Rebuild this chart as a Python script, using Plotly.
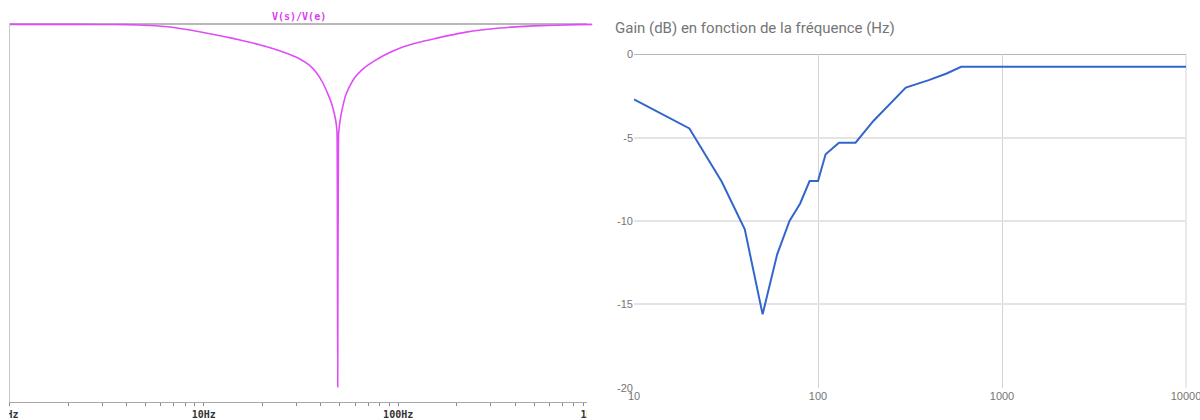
import plotly.graph_objects as go

# ---------------- Left panel: simulated response V(s)/V(e) ----------------
sim_title = "V(s)/V(e)"
sim_freq_hz = [1.0, 1.8, 2.9, 4.0, 5.3, 6.5, 9.5, 14.1, 17.2, 21.1, 25.6, 31.2, 34.9,
               37.9, 41.2, 43.4, 45.3, 46.6, 47.7, 48.3, 48.5, 48.86, 49.3, 49.7, 50.6,
               52.2, 54.0, 56.7, 60.1, 64.5, 70.1, 76.2, 83.7, 102.4, 126.7, 151.4,
               223.7, 334.5, 494.5, 842.0, 1000.0]
sim_gain_db = [-0.05, -0.05, -0.08, -0.13, -0.37, -0.71, -2.01, -3.75, -4.78, -5.96,
               -7.36, -9.18, -10.82, -12.77, -15.73, -18.34, -20.74, -22.98, -25.36,
               -27.55, -29.5, -95.7, -29.5, -27.4, -24.5, -21.1, -18.45, -16.07, -13.96,
               -12.25, -10.74, -9.55, -8.36, -6.31, -4.85, -3.91, -2.11, -1.03, -0.45,
               -0.13, -0.07]
sim_tick_vals = [1, 2, 3, 4, 5, 6, 7, 8, 9,
                 10, 20, 30, 40, 50, 60, 70, 80, 90,
                 100, 200, 300, 400, 500, 600, 700, 800, 900, 1000]
sim_tick_text = ["1Hz", "", "", "", "", "", "", "", "",
                 "10Hz", "", "", "", "", "", "", "", "",
                 "100Hz", "", "", "", "", "", "", "", "", "1KHz"]

# ---------------- Right panel: measured gain ----------------
meas_title = "Gain (dB) en fonction de la fréquence (Hz)"
meas_freq_hz = [10, 20, 30, 40, 50, 60, 70, 80, 90, 100, 110, 120, 130, 140, 150, 160,
                200, 300, 400, 500, 600, 1000, 10000]
meas_gain_db = [-2.7, -4.45, -7.65, -10.5, -15.6, -12.0, -10.0, -8.95, -7.6, -7.6, -6.0,
                -5.65, -5.3, -5.3, -5.3, -5.3, -4.0, -2.0, -1.55, -1.15, -0.75, -0.75, -0.75]
meas_x_ticks = [10, 100, 1000, 10000]
meas_x_labels = ["10", "100", "1000", "10000"]
meas_y_ticks = [0, -5, -10, -15, -20]
meas_y_labels = ["0", "-5", "-10", "-15", "-20"]

W, H = 1200, 420


def px(x):
    return x / W


def py(y):
    return 1 - y / H


MAGENTA = "#e04cf8"
BLUE = "#3366cc"
GREY_TXT = "#757575"

fig = go.Figure()

fig.add_trace(go.Scatter(
    x=sim_freq_hz, y=sim_gain_db, mode="lines",
    line=dict(color=MAGENTA, width=1.6, shape="spline", smoothing=0.5),
    xaxis="x", yaxis="y", showlegend=False, hoverinfo="skip"))

fig.add_trace(go.Scatter(
    x=meas_freq_hz, y=meas_gain_db, mode="lines",
    line=dict(color=BLUE, width=2),
    xaxis="x2", yaxis="y2", showlegend=False, hoverinfo="skip"))

fig.update_layout(
    width=W, height=H,
    margin=dict(l=0, r=0, t=0, b=0),
    paper_bgcolor="white", plot_bgcolor="white",
    xaxis=dict(
        type="log", domain=[px(9.5), px(592.5)], range=[0, 3], anchor="y",
        showgrid=False, zeroline=False,
        showline=True, linecolor="#a8a8a8", linewidth=1,
        ticks="outside", ticklen=3, tickcolor="#8a8a8a", tickwidth=1,
        tickvals=sim_tick_vals, ticktext=sim_tick_text,
        tickfont=dict(family="DejaVu Sans Mono", size=10, color="#333333", weight="bold"),
        ticklabeloverflow="allow",
        automargin=False,
    ),
    yaxis=dict(
        domain=[py(402), py(23)], range=[-99.7, 0.3], anchor="x",
        showgrid=False, zeroline=False, showticklabels=False, ticks="",
        showline=True, linecolor="#c8c8c8", linewidth=1.5,
        automargin=False,
    ),
    xaxis2=dict(
        type="log", domain=[px(634), px(1186)], range=[1, 4], anchor="y2",
        showgrid=True, gridcolor="#d4d4d4", gridwidth=1, zeroline=False,
        showline=False, ticks="",
        tickvals=meas_x_ticks, ticktext=meas_x_labels,
        tickfont=dict(family="Liberation Sans", size=11, color=GREY_TXT),
        ticklabeloverflow="allow",
        automargin=False,
    ),
    yaxis2=dict(
        domain=[py(387.7), py(54.3)], range=[-20, 0], anchor="x2",
        showgrid=True, gridcolor="#e4e4e4", gridwidth=1.5, zeroline=False,
        showline=False, ticks="",
        tickvals=meas_y_ticks, ticktext=meas_y_labels,
        tickfont=dict(family="Liberation Sans", size=11, color=GREY_TXT),
        ticklabeloverflow="allow",
        automargin=False,
    ),
    shapes=[
        # top frame line of the simulation plot
        dict(type="line", xref="paper", yref="paper", x0=px(9.5), x1=px(587),
             y0=py(24), y1=py(24), line=dict(color="#b8b8b8", width=2), layer="below"),
        # baseline at 0 dB of the measurement chart
        dict(type="line", xref="x2 domain", yref="y2", x0=0, x1=1, y0=0, y1=0,
             line=dict(color="#9e9e9e", width=1.5), layer="below"),
        # right border of the measurement chart
        dict(type="line", xref="x2 domain", yref="y2 domain", x0=1, x1=1, y0=0, y1=1,
             line=dict(color="#d4d4d4", width=1), layer="below"),
        # white masks: the simulation screenshot is cropped at its edges
        dict(type="rect", xref="paper", yref="paper", x0=0, x1=px(9), y0=0, y1=1,
             fillcolor="white", line=dict(width=0), layer="above"),
        dict(type="rect", xref="paper", yref="paper", x0=px(587), x1=px(611), y0=0, y1=py(40),
             fillcolor="white", line=dict(width=0), layer="above"),
    ],
    annotations=[
        dict(text="<b>" + sim_title + "</b>", xref="paper", yref="paper",
             x=px(299), y=py(17), xanchor="center", yanchor="middle", showarrow=False,
             font=dict(family="DejaVu Sans Mono", size=10, color="#d93cf2")),
        dict(text=meas_title, xref="paper", yref="paper",
             x=px(613), y=py(28), xanchor="left", yanchor="middle", showarrow=False,
             font=dict(family="Roboto", size=15, color=GREY_TXT)),
    ],
)

fig.write_html(
    "out.html",
    config={"displayModeBar": False},
    post_script="document.body.style.margin='0px';document.body.style.overflow='hidden';",
)
